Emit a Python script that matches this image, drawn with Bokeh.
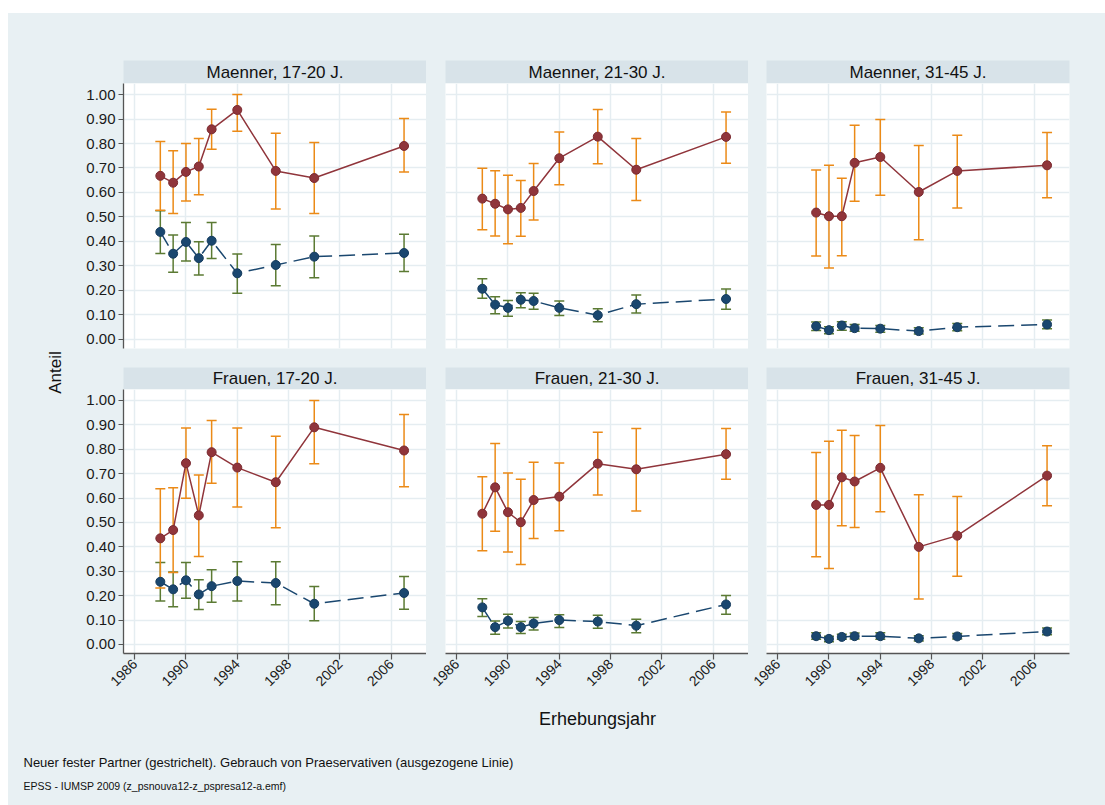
import math
from bokeh.plotting import figure
from bokeh.models import Range1d, FixedTicker, PrintfTickFormatter, Label, Spacer
from bokeh.layouts import row, column
from bokeh.embed import file_html
from bokeh.resources import INLINE

# ---------------- data ----------------
years_a = [1988, 1989, 1990, 1991, 1992, 1994, 1997, 2000, 2007]
years_b = [1989, 1990, 1991, 1992, 1994, 1997, 2000, 2007]

x_ticks = [1986, 1990, 1994, 1998, 2002, 2006]
y_ticks = [0.0, 0.1, 0.2, 0.3, 0.4, 0.5, 0.6, 0.7, 0.8, 0.9, 1.0]

titles = ["Maenner, 17-20 J.", "Maenner, 21-30 J.", "Maenner, 31-45 J.",
          "Frauen, 17-20 J.", "Frauen, 21-30 J.", "Frauen, 31-45 J."]

# condom use (solid) and new steady partner (dashed), with confidence bounds
m1720_condom    = [0.668, 0.640, 0.684, 0.706, 0.858, 0.937, 0.688, 0.659, 0.790]
m1720_condom_lo = [0.527, 0.514, 0.565, 0.591, 0.777, 0.850, 0.533, 0.514, 0.684]
m1720_condom_hi = [0.808, 0.770, 0.800, 0.820, 0.940, 1.000, 0.842, 0.804, 0.902]
m1720_partner    = [0.439, 0.350, 0.398, 0.332, 0.403, 0.270, 0.304, 0.338, 0.353]
m1720_partner_lo = [0.351, 0.274, 0.320, 0.263, 0.330, 0.189, 0.219, 0.252, 0.277]
m1720_partner_hi = [0.525, 0.426, 0.477, 0.399, 0.477, 0.349, 0.388, 0.422, 0.429]

m2130_condom    = [0.575, 0.554, 0.531, 0.537, 0.606, 0.740, 0.828, 0.693, 0.827]
m2130_condom_lo = [0.448, 0.422, 0.391, 0.421, 0.488, 0.632, 0.717, 0.567, 0.719]
m2130_condom_hi = [0.699, 0.689, 0.670, 0.649, 0.718, 0.847, 0.939, 0.820, 0.929]
m2130_partner    = [0.207, 0.142, 0.129, 0.162, 0.157, 0.129, 0.099, 0.144, 0.165]
m2130_partner_lo = [0.168, 0.105, 0.095, 0.129, 0.123, 0.098, 0.072, 0.108, 0.123]
m2130_partner_hi = [0.248, 0.174, 0.159, 0.191, 0.189, 0.157, 0.125, 0.181, 0.206]

m3145_condom    = [0.518, 0.503, 0.503, 0.721, 0.745, 0.602, 0.688, 0.711]
m3145_condom_lo = [0.341, 0.292, 0.342, 0.564, 0.589, 0.407, 0.537, 0.579]
m3145_condom_hi = [0.692, 0.711, 0.658, 0.875, 0.898, 0.792, 0.834, 0.845]
m3145_partner    = [0.054, 0.038, 0.057, 0.046, 0.044, 0.034, 0.050, 0.061]
m3145_partner_lo = [0.037, 0.023, 0.038, 0.033, 0.029, 0.022, 0.035, 0.044]
m3145_partner_hi = [0.071, 0.052, 0.072, 0.061, 0.057, 0.048, 0.065, 0.079]

f1720_condom    = [0.435, 0.469, 0.743, 0.529, 0.788, 0.725, 0.665, 0.890, 0.795]
f1720_condom_lo = [0.231, 0.295, 0.599, 0.361, 0.661, 0.563, 0.478, 0.741, 0.646]
f1720_condom_hi = [0.638, 0.642, 0.887, 0.695, 0.918, 0.887, 0.853, 1.000, 0.943]
f1720_partner    = [0.257, 0.226, 0.263, 0.205, 0.239, 0.260, 0.252, 0.167, 0.211]
f1720_partner_lo = [0.178, 0.155, 0.189, 0.143, 0.173, 0.178, 0.163, 0.097, 0.144]
f1720_partner_hi = [0.336, 0.297, 0.336, 0.265, 0.306, 0.339, 0.339, 0.238, 0.279]

f2130_condom    = [0.536, 0.644, 0.542, 0.501, 0.592, 0.606, 0.741, 0.718, 0.780]
f2130_condom_lo = [0.384, 0.464, 0.379, 0.328, 0.434, 0.466, 0.613, 0.547, 0.677]
f2130_condom_hi = [0.687, 0.824, 0.703, 0.677, 0.747, 0.744, 0.870, 0.885, 0.885]
f2130_partner    = [0.152, 0.071, 0.097, 0.071, 0.086, 0.100, 0.094, 0.077, 0.164]
f2130_partner_lo = [0.115, 0.042, 0.068, 0.045, 0.059, 0.070, 0.066, 0.048, 0.124]
f2130_partner_hi = [0.187, 0.096, 0.124, 0.094, 0.111, 0.122, 0.120, 0.103, 0.201]

f3145_condom    = [0.572, 0.572, 0.685, 0.668, 0.724, 0.400, 0.446, 0.692]
f3145_condom_lo = [0.360, 0.311, 0.487, 0.479, 0.544, 0.186, 0.280, 0.569]
f3145_condom_hi = [0.787, 0.833, 0.878, 0.856, 0.897, 0.614, 0.606, 0.814]
f3145_partner    = [0.034, 0.023, 0.031, 0.034, 0.034, 0.025, 0.033, 0.053]
f3145_partner_lo = [0.021, 0.011, 0.021, 0.022, 0.021, 0.014, 0.022, 0.040]
f3145_partner_hi = [0.048, 0.034, 0.042, 0.047, 0.048, 0.036, 0.045, 0.068]

y_title = "Anteil"
x_title = "Erhebungsjahr"
note = "Neuer fester Partner (gestrichelt). Gebrauch von Praeservativen (ausgezogene Linie)"
source_note = "EPSS - IUMSP 2009 (z_psnouva12-z_pspresa12-a.emf)"

# ---------------- style ----------------
BG = "#e8f0f3"
STRIP = "#d8e3e9"
GRID = "#e5edf1"
AXIS = "#555555"
RED = "#90353b"
ORANGE = "#eb8a17"
BLUE = "#1a476f"
GREEN = "#5b7a33"
FONT = "Liberation Sans"

X_RANGE = (1985.13, 2008.75)
Y_RANGE = (-0.037, 1.045)

col_geo = [  # (left border, right border)
    (53, 0),
    (19, 0),
    (18, 36),
]
FRAME_W = 303


def strip_fig(text, bl, br, height, bt):
    w = bl + FRAME_W + br
    s = figure(width=w, height=height, x_range=Range1d(0, 1), y_range=Range1d(0, 1),
               output_backend="svg", toolbar_location=None,
               min_border_left=bl, min_border_right=br, min_border_top=bt, min_border_bottom=0,
               background_fill_color=STRIP, border_fill_color=BG, outline_line_color=None,
               x_axis_location=None, y_axis_location=None)
    s.grid.visible = False
    s.add_layout(Label(x=0.5, y=0.5, text=text, text_align="center", text_baseline="middle",
                       text_font=FONT, text_font_size="17px", text_color="#111111"))
    return s


def panel_fig(years, c, clo, chi, pp, plo, phi, bl, br, height, bb, left_axis, bottom_axis):
    w = bl + FRAME_W + br
    p = figure(width=w, height=height, x_range=Range1d(*X_RANGE), y_range=Range1d(*Y_RANGE),
               output_backend="svg", toolbar_location=None,
               min_border_left=bl, min_border_right=br, min_border_top=0, min_border_bottom=bb,
               background_fill_color="white", border_fill_color=BG, outline_line_color=None)
    p.xaxis.ticker = FixedTicker(ticks=x_ticks)
    p.yaxis.ticker = FixedTicker(ticks=y_ticks)
    p.xgrid.ticker = FixedTicker(ticks=x_ticks)
    p.ygrid.ticker = FixedTicker(ticks=y_ticks)
    for g in (p.xgrid, p.ygrid):
        g.grid_line_color = GRID
        g.grid_line_width = 1.5
    p.yaxis.formatter = PrintfTickFormatter(format="%.2f")
    for ax in (p.xaxis, p.yaxis):
        ax.axis_line_color = AXIS
        ax.axis_line_width = 1.3
        ax.major_tick_line_color = AXIS
        ax.major_tick_line_width = 1.2
        ax.major_tick_in = 0
        ax.minor_tick_in = 0
        ax.minor_tick_out = 0
        ax.major_label_text_color = "#1a1a1a"
    p.yaxis.major_tick_out = 5
    p.yaxis.major_label_standoff = 3
    p.yaxis.major_label_text_font = FONT
    p.yaxis.major_label_text_font_size = "15px"
    p.xaxis.major_tick_out = 6
    p.xaxis.major_label_standoff = 2
    p.xaxis.major_label_text_font = FONT
    p.xaxis.major_label_text_font_size = "14px"
    p.xaxis.major_label_orientation = math.pi / 4
    p.xaxis.visible = bottom_axis
    p.yaxis.visible = left_axis

    # confidence intervals
    p.segment(x0=years, y0=plo, x1=years, y1=phi, line_color=GREEN, line_width=1.5)
    p.scatter(x=years, y=plo, marker="dash", size=10, line_color=GREEN, line_width=1.5)
    p.scatter(x=years, y=phi, marker="dash", size=10, line_color=GREEN, line_width=1.5)
    p.segment(x0=years, y0=clo, x1=years, y1=chi, line_color=ORANGE, line_width=1.5)
    p.scatter(x=years, y=clo, marker="dash", size=10, line_color=ORANGE, line_width=1.5)
    p.scatter(x=years, y=chi, marker="dash", size=10, line_color=ORANGE, line_width=1.5)
    # lines
    p.line(x=years, y=pp, line_color=BLUE, line_width=1.5, line_dash="16 7")
    p.line(x=years, y=c, line_color=RED, line_width=1.5)
    # markers
    p.scatter(x=years, y=pp, size=9, fill_color=BLUE, line_color="#163c5e", line_width=1)
    p.scatter(x=years, y=c, size=9, fill_color=RED, line_color="#7a2a30", line_width=1)
    return p


panels = [
    (years_a, m1720_condom, m1720_condom_lo, m1720_condom_hi, m1720_partner, m1720_partner_lo, m1720_partner_hi),
    (years_a, m2130_condom, m2130_condom_lo, m2130_condom_hi, m2130_partner, m2130_partner_lo, m2130_partner_hi),
    (years_b, m3145_condom, m3145_condom_lo, m3145_condom_hi, m3145_partner, m3145_partner_lo, m3145_partner_hi),
    (years_a, f1720_condom, f1720_condom_lo, f1720_condom_hi, f1720_partner, f1720_partner_lo, f1720_partner_hi),
    (years_a, f2130_condom, f2130_condom_lo, f2130_condom_hi, f2130_partner, f2130_partner_lo, f2130_partner_hi),
    (years_b, f3145_condom, f3145_condom_lo, f3145_condom_hi, f3145_partner, f3145_partner_lo, f3145_partner_hi),
]

cols = []
for ci in range(3):
    bl, br = col_geo[ci]
    top = panels[ci]
    bot = panels[3 + ci]
    s1 = strip_fig(titles[ci], bl, br, 70, 47)
    p1 = panel_fig(*top, bl, br, 284, 19, left_axis=(ci == 0), bottom_axis=False)
    s2 = strip_fig(titles[3 + ci], bl, br, 22, 0)
    p2 = panel_fig(*bot, bl, br, 311, 47, left_axis=(ci == 0), bottom_axis=True)
    cols.append(column(s1, p1, s2, p2, spacing=0, styles={"background-color": BG}))

# y title column
ya = figure(width=62, height=687, x_range=Range1d(0, 62), y_range=Range1d(0, 687),
            output_backend="svg", toolbar_location=None, min_border=0,
            background_fill_color=BG, border_fill_color=BG, outline_line_color=None,
            x_axis_location=None, y_axis_location=None)
ya.grid.visible = False
ya.add_layout(Label(x=47, y=328, text=y_title, angle=math.pi / 2, text_align="center",
                    text_baseline="middle", text_font=FONT, text_font_size="17px",
                    text_color="#111111"))

# footer
ft = figure(width=1097, height=105, x_range=Range1d(0, 1097), y_range=Range1d(105, 0),
            output_backend="svg", toolbar_location=None, min_border=0,
            background_fill_color=BG, border_fill_color=BG, outline_line_color=None,
            x_axis_location=None, y_axis_location=None)
ft.grid.visible = False
ft.add_layout(Label(x=589, y=18, text=x_title, text_align="center", text_baseline="middle",
                    text_font=FONT, text_font_size="18px", text_color="#111111"))
ft.add_layout(Label(x=15, y=62, text=note, text_align="left", text_baseline="middle",
                    text_font=FONT, text_font_size="13px", text_color="#111111"))
ft.add_layout(Label(x=15, y=85, text=source_note, text_align="left", text_baseline="middle",
                    text_font=FONT, text_font_size="10.5px", text_color="#111111"))

inner = column(row(ya, *cols, spacing=0, styles={"background-color": BG}),
               ft, spacing=0, styles={"background-color": BG})

root = column(Spacer(width=1105, height=13),
              row(Spacer(width=8, height=792), inner, spacing=0),
              spacing=0)

open("out.html", "w").write(file_html(root, INLINE))
